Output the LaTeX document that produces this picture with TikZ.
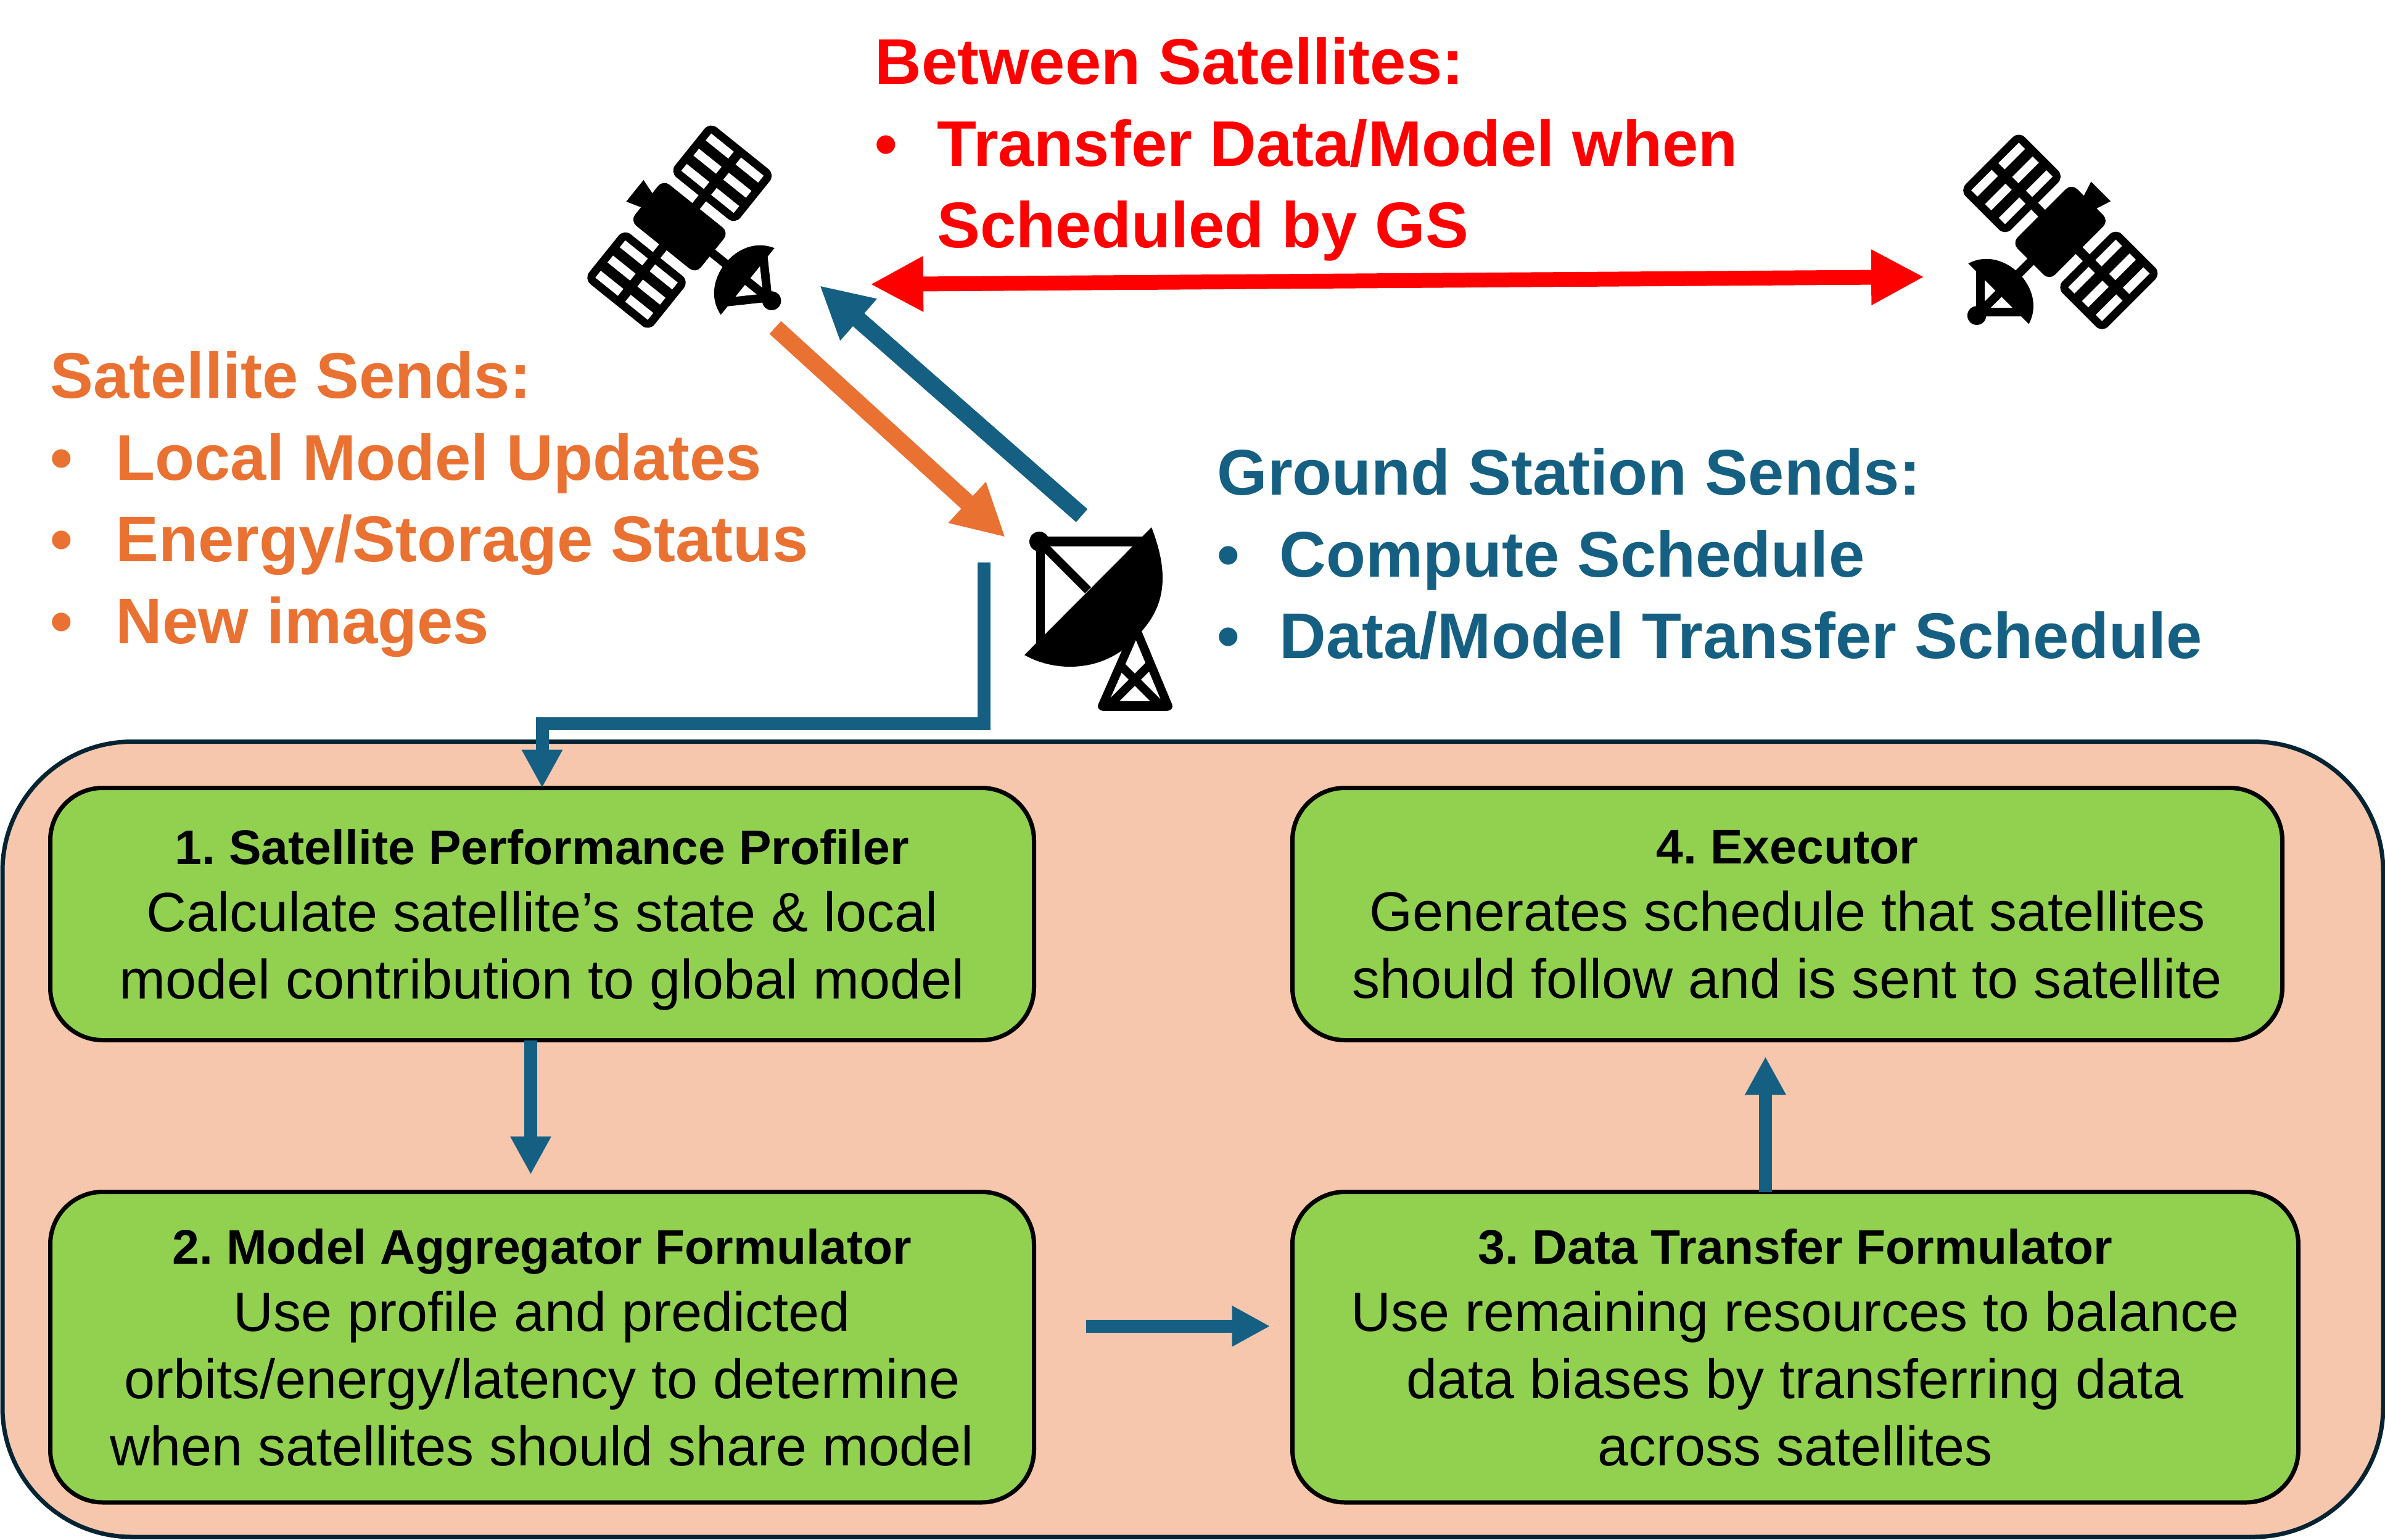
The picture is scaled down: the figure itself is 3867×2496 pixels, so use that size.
\documentclass[tikz,border=0pt]{standalone}
\usepackage{fontspec}
\setmainfont{Liberation Sans}
\usepackage{tikz}
\usetikzlibrary{arrows.meta,positioning}
\definecolor{gsblue}{HTML}{156082}
\definecolor{satorange}{HTML}{E97132}
\definecolor{boxgreen}{HTML}{92D050}
\definecolor{panelpeach}{HTML}{F6C7AD}
\definecolor{panelline}{HTML}{042433}
\providecommand{\bul}{}
\renewcommand{\bul}[2][10.1mm]{\makebox[#1][l]{•}#2}
\providecommand{\hd}{}
\renewcommand{\hd}[1]{{\fontsize{22.4}{31}\selectfont\textbf{#1}}}

\begin{document}
\frenchspacing
\begin{tikzpicture}[
  x=.1mm,y=-.1mm,
  blk/.style={draw=black,line width=.7mm,fill=boxgreen,rounded corners=8.5mm,align=center,
    outer sep=0pt,inner sep=0pt,text depth=0pt,font=\fontsize{25.6}{31}\selectfont},
  panel/.style={draw=panelline,line width=.7mm,fill=panelpeach,rounded corners=21mm,
    outer sep=0pt,inner sep=0pt,minimum width=386mm,minimum height=128.95mm,anchor=north west},
  lst/.style={align=left,anchor=north west,inner sep=0pt,font=\fontsize{29.8}{37.7}\selectfont\bfseries},
  flow/.style={gsblue,line width=2.1mm,-{Triangle[length=6.2mm,width=6.2mm]}},
  fat/.style={line width=2.8mm,-{Triangle[length=8.4mm,width=8.4mm]}},
  sat/.pic={
    \fill[rounded corners=1.3mm] (-42,-67) rectangle (42,67);
    \fill (-14,-66) -- (-22,-91) -- (22,-91) -- (14,-66) -- cycle;
    \fill (-60,-7.5) rectangle (60,7.5);
    \fill (-7,60) rectangle (7,100);
    % dish and feed
    \fill (-68,139) .. controls (-50,78) and (50,78) .. (68,139) -- cycle;
    \draw[line width=1.4mm] (-46,134) -- (0,180) -- (46,134);
    \draw[line width=1.4mm] (0,130) -- (0,188);
    \fill (0,188) circle[radius=15];
    % solar panels
    \foreach \s in {-1,1} {
      \fill[rounded corners=1.4mm] (\s*58,-66.5) rectangle (\s*160,66.5);
      \foreach \u in {78,109,140} \foreach \v in {-30.5,30.5}
        \fill[white] (\s*\u-\s*7,\v-23) rectangle (\s*\u+\s*7,\v+23);
    }
  }]
\useasboundingbox (0,0) rectangle (3867,2496);

\node[panel] (ground) at (4,1202.5) {};
\node[blk,minimum width=159.5mm,minimum height=40.9mm,below right=7.5mm and 7.75mm of ground.north west] (prof)
  {\hd{1. Satellite Performance Profiler}\\Calculate satellite’s state \& local\\model contribution to global model};
\node[blk,minimum width=159.5mm,minimum height=50.35mm,below=24.6mm of prof] (aggr)
  {\hd{2. Model Aggregator Formulator}\\Use profile and predicted\\orbits/energy/latency to determine\\when satellites should share model};
\node[blk,minimum width=163.1mm,minimum height=50.35mm,right=41.9mm of aggr] (xfer)
  {\hd{3. Data Transfer Formulator}\\Use remaining resources to balance\\data biases by transferring data\\across satellites};
\node[blk,minimum width=160.5mm,minimum height=40.9mm,right=41.9mm of prof] (exec)
  {\hd{4. Executor}\\Generates schedule that satellites\\should follow and is sent to satellite};

% texts round the icons
\node[lst,text=red] (between) at (1418,60)
  {Between Satellites:\\\bul{Transfer Data/Model when}\\\hspace{10.1mm}Scheduled by GS};
\node[lst,text=satorange] (satsends) at (81,569)
  {Satellite Sends:\\\bul[10.6mm]{Local Model Updates}\\\bul[10.6mm]{Energy/Storage Status}\\\bul[10.6mm]{New images}};
\node[lst,text=gsblue] (gssends) at (1973,726)
  {Ground Station Sends:\\\bul{Compute Schedule}\\\bul{Data/Model Transfer Schedule}};

% icons
\pic (satA) [rotate=51.2,scale=1.02] at (1101.7,367.5) {sat};
\pic (satB) [rotate=-45,scale=1.02] at (3340.7,376) {sat};

% ground station dish
\fill (1867,855) .. controls (1900,940) and (1885,990) .. (1843,1032)
  .. controls (1800,1085) and (1720,1095) .. (1661,1062) -- cycle;
\draw[line width=1.6mm] (1685,878) -- (1853,878);
\draw[line width=1.4mm] (1687,878) -- (1687,1042);
\draw[line width=1.4mm] (1685,878) -- (1764,957);
\fill (1685,878) circle[radius=16];
\draw[line width=1.4mm,line join=round] (1842,1020) -- (1787,1145) -- (1894,1145) -- cycle;
\draw[line width=1.6mm,line cap=round] (1790,1145) -- (1891,1145);
\draw[line width=1.4mm] (1797,1145) -- (1865,1077);
\draw[line width=1.4mm] (1883,1145) -- (1815,1077);

% free ends of the links at the icons
\coordinate (pairL)   at (1411,461);
\coordinate (pairR)   at (3120,449);
\coordinate (sendFrom) at (1257,531);
\coordinate (sendTo)   at (1630,871);
\coordinate (backFrom) at (1754,836);
\coordinate (backTo)   at (1329,463);
\coordinate (gsOut)  at (1595.5,912);
\coordinate (gsBend) at (1595.5,1173.5);

\draw[red,line width=2.4mm,{Triangle[length=8.6mm,width=8.4mm]}-{Triangle[length=8.6mm,width=8.4mm]}] (pairL) -- (pairR);
\draw[fat,satorange] (sendFrom) -- (sendTo);
\draw[fat,gsblue] (backFrom) -- (backTo);
\draw[flow] (gsOut) -- (gsBend) -| (prof.north);

\draw[flow,shorten >=2.8mm] ([xshift=-1.85mm]prof.south) -- ([xshift=-1.85mm]aggr.north);
\draw[flow,shorten <=8.4mm,shorten >=3.6mm] ([yshift=3.4mm]aggr.east) -- ([yshift=3.4mm]xfer.west);
\draw[flow,shorten >=2.65mm] ([xshift=-4.85mm]xfer.north) -- ([xshift=-3.55mm]exec.south);
\end{tikzpicture}
\end{document}
